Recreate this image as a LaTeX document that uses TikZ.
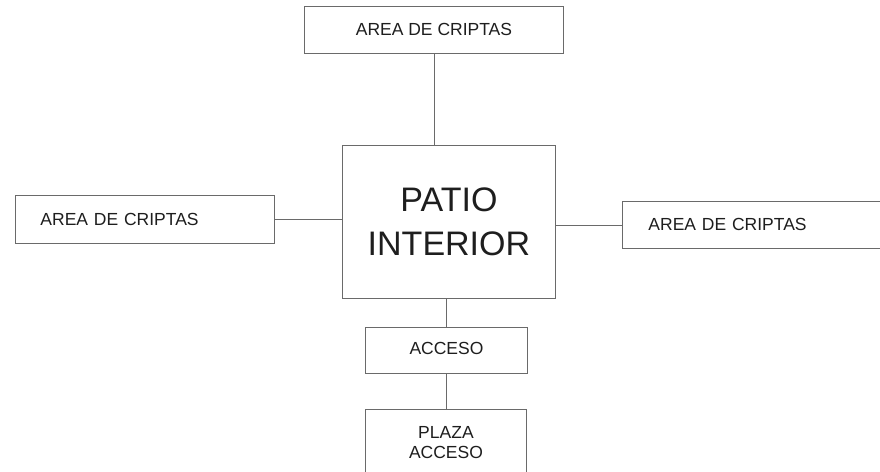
\documentclass[tikz,border=0pt]{standalone}
\usepackage{fontspec}
\setmainfont{Liberation Sans}
\definecolor{linegray}{HTML}{6A6A6A}
\definecolor{txt}{HTML}{1E1E1E}
\begin{document}
\begin{tikzpicture}[x=1pt,y=-1pt,
  box/.style={draw=linegray, line width=0.9pt, rectangle, inner sep=0pt, text=txt, anchor=north west},
  small/.style={font=\fontsize{17.5}{20}\selectfont},
  conn/.style={draw=linegray, line width=0.9pt}]
\useasboundingbox[fill=white] (0,0) rectangle (880,471);
\node[box, small, minimum width=259pt, minimum height=47pt] (t) at (304,6) {AREA DE CRIPTAS};
\node[box, minimum width=213pt, minimum height=153pt, align=center,
      font=\fontsize{34}{44}\selectfont] (c) at (342,145) {PATIO\\INTERIOR};
\node[box, small, minimum height=48pt, text width=209pt, inner xsep=25pt, align=left] (l) at (15,195) {AREA DE CRIPTAS};
\node[box, small, minimum height=47pt, text width=240pt, inner xsep=26pt, align=left] (r) at (622,201) {AREA DE CRIPTAS};
\node[box, small, minimum width=162pt, minimum height=46pt] (a) at (365,327) {\raisebox{4pt}{ACCESO}};
\node[box, small, minimum width=161pt, minimum height=66pt, align=center, anchor=north west] (p) at (365,409) {PLAZA\\ACCESO};
\draw[conn] (t.south) -- (t.south |- c.north);
\draw[conn] (l.east) -- (l.east -| c.west);
\draw[conn] (r.west) -- (r.west -| c.east);
\draw[conn] (a.north) -- (a.north |- c.south);
\draw[conn] (p.north) -- (p.north |- a.south);
\end{tikzpicture}
\end{document}
